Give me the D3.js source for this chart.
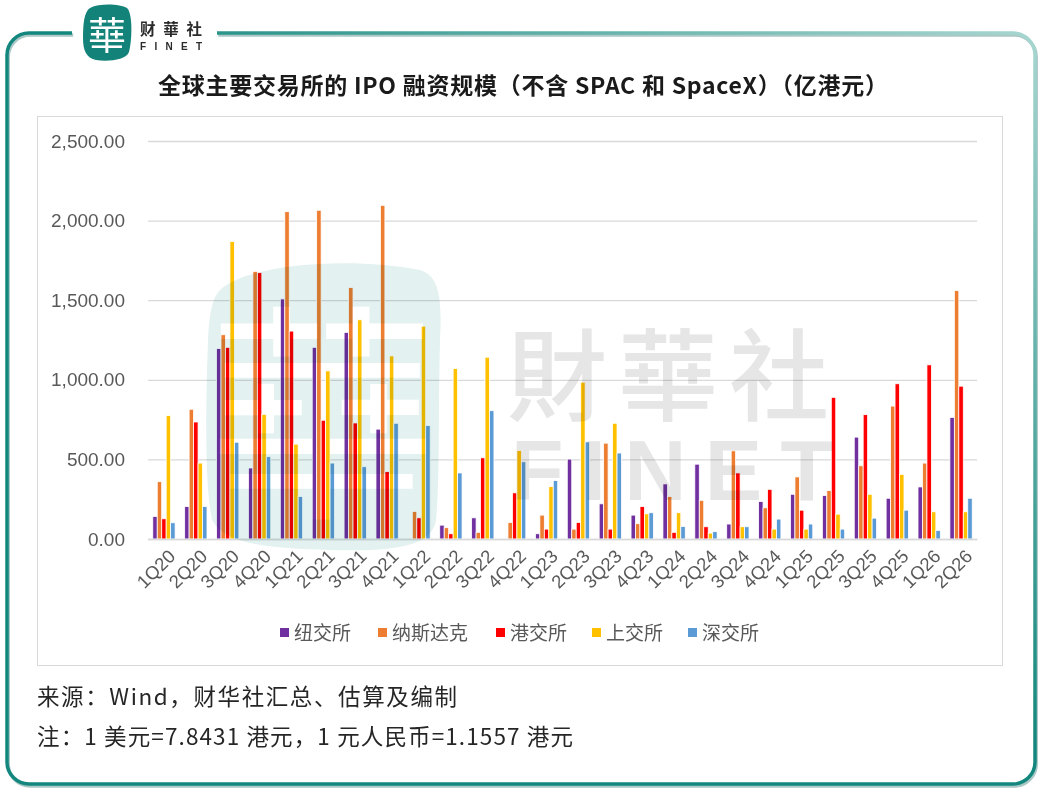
<!DOCTYPE html>
<html>
<head>
<meta charset="utf-8">
<script src="https://cdn.jsdelivr.net/npm/d3@7"></script>
<style>
  html, body { margin: 0; padding: 0; background: #ffffff; }
  svg { display: block; }
</style>
</head>
<body>
<script>
// ---------- DATA ----------
const categories = ["1Q20","2Q20","3Q20","4Q20","1Q21","2Q21","3Q21","4Q21","1Q22","2Q22","3Q22","4Q22","1Q23","2Q23","3Q23","4Q23","1Q24","2Q24","3Q24","4Q24","1Q25","2Q25","3Q25","4Q25","1Q26","2Q26"];
const seriesNames = ["纽交所","纳斯达克","港交所","上交所","深交所"];
const nyse   = [142,204,1196,446,1508,1204,1298,690,0,87,133,0,33,502,221,150,346,470,94,235,281,273,640,256,327,764];
const nasdaq = [360,815,1283,1681,2056,2065,1579,2096,173,71,42,104,150,62,602,96,267,243,554,196,390,304,460,835,477,1560];
const hkex   = [127,735,1204,1673,1306,746,729,423,133,33,510,290,62,104,62,204,42,77,415,312,181,890,781,975,1094,960];
const sse    = [775,477,1869,783,596,1056,1377,1150,1337,1071,1142,556,329,985,727,158,165,37,77,62,62,156,281,406,171,171];
const szse   = [102,204,608,517,267,477,454,727,712,415,806,485,367,610,540,165,79,46,77,125,94,62,131,181,54,256];
const yTicks = [0,500,1000,1500,2000,2500];
const titleText = "全球主要交易所的 IPO 融资规模（不含 SPAC 和 SpaceX）（亿港元）";
const sourceText = "来源：Wind，财华社汇总、估算及编制";
const noteText = "注：1 美元=7.8431 港元，1 元人民币=1.1557 港元";

const seriesValues = [nyse, nasdaq, hkex, sse, szse];
const colors = ["#7030a0","#ed7d31","#ff0000","#ffc000","#5b9bd5"];

const W = 1046, H = 798;
const CJK = "'Noto Sans CJK SC','Noto Sans',sans-serif";
const NUM = "'Liberation Sans',Arial,sans-serif";

const svg = d3.select("body").append("svg").attr("width", W).attr("height", H);
const defs = svg.append("defs");

// ---------- frame ----------
const grad = defs.append("linearGradient").attr("id","frameGrad")
  .attr("gradientUnits","userSpaceOnUse")
  .attr("x1",700).attr("y1",500).attr("x2",1040).attr("y2",30);
grad.append("stop").attr("offset","0%").attr("stop-color","#13877d");
grad.append("stop").attr("offset","100%").attr("stop-color","#a9d7d1");

const fx0 = 7, fy0 = 33, fx1 = 1035, fy1 = 784, r = 22;
const fp = d3.path();
fp.moveTo(72, fy0);
fp.lineTo(fx0 + r, fy0);
fp.arcTo(fx0, fy0, fx0, fy0 + r, r);
fp.lineTo(fx0, fy1 - r);
fp.arcTo(fx0, fy1, fx0 + r, fy1, r);
fp.lineTo(fx1 - r, fy1);
fp.arcTo(fx1, fy1, fx1, fy1 - r, r);
fp.lineTo(fx1, fy0 + r);
fp.arcTo(fx1, fy0, fx1 - r, fy0, r);
fp.lineTo(217, fy0);

svg.append("path").attr("d", fp.toString())
  .attr("transform","translate(1.2,2)")
  .attr("fill","none").attr("stroke","#0d625b").attr("stroke-opacity",0.35).attr("stroke-width",3.5);
svg.append("path").attr("d", fp.toString())
  .attr("fill","none").attr("stroke","url(#frameGrad)").attr("stroke-width",3.5);

// ---------- top logo ----------
const logo = svg.append("g");
logo.append("path")
  .attr("d","M90,8 C100,3 120,4 127,8 C133,14 132,40 129,52 C126,60 108,62 96,60 C86,58 83,50 83,38 C83,24 84,12 90,8 Z")
  .attr("fill","#13837a");
logo.append("text").attr("x",107).attr("y",49).attr("text-anchor","middle")
  .attr("font-family","'Noto Sans CJK TC',sans-serif").attr("font-weight",400)
  .attr("font-size",38).attr("fill","#ffffff").text("華");
logo.append("text").attr("x",140).attr("y",35)
  .attr("font-family","'Noto Sans CJK TC',sans-serif").attr("font-weight",700)
  .attr("font-size",15.5).attr("fill","#2b2b2b").attr("textLength",62).text("财華社");
logo.append("text").attr("x",140).attr("y",49.5)
  .attr("font-family","'Liberation Sans',Arial,sans-serif").attr("font-weight",700)
  .attr("font-size",10).attr("fill","#2b2b2b").attr("textLength",62).attr("lengthAdjust","spacing").text("FINET");

// ---------- title ----------
svg.append("text").attr("x",523).attr("y",94).attr("text-anchor","middle")
  .attr("font-family",CJK).attr("font-weight",700).attr("font-size",23).attr("fill","#1a1a1a")
  .attr("textLength",730).attr("lengthAdjust","spacing")
  .text(titleText);

// ---------- chart box ----------
svg.append("rect").attr("x",37.5).attr("y",116.5).attr("width",965).attr("height",549)
  .attr("fill","#ffffff").attr("stroke","#d9d9d9").attr("stroke-width",1);

// ---------- scales ----------
const plotL = 148, plotR = 977, plotT = 141, plotB = 539;
const x = d3.scaleBand().domain(categories).range([plotL, plotR]).paddingInner(0.3).paddingOuter(0.15);
const xs = d3.scaleBand().domain(d3.range(seriesNames.length)).range([0, x.bandwidth()]).padding(0);
const y = d3.scaleLinear().domain([0, 2500]).range([plotB, plotT]);

// gridlines
const yAxis = d3.axisLeft(y).tickValues(yTicks).tickSize(-(plotR - plotL)).tickFormat(d3.format(",.2f")).tickPadding(23);
const gy = svg.append("g").attr("transform", `translate(${plotL},0)`).call(yAxis);
gy.select(".domain").remove();
gy.selectAll(".tick line").attr("stroke","#d9d9d9").attr("stroke-width",1.3);
gy.selectAll(".tick text").attr("font-family",NUM).attr("font-size",19).attr("fill","#595959");

// bars
const groups = svg.append("g").selectAll("g").data(categories).join("g")
  .attr("transform", d => `translate(${x(d)},0)`);
groups.selectAll("rect")
  .data((d, i) => seriesValues.map((arr, s) => ({ s, v: arr[i] })))
  .join("rect")
  .filter(d => d.v > 0)
  .attr("x", d => xs(d.s))
  .attr("width", xs.bandwidth())
  .attr("y", d => y(d.v))
  .attr("height", d => y(0) - y(d.v))
  .attr("fill", d => colors[d.s])
  .attr("stroke", "#ffffff").attr("stroke-width", 0.8);

// x axis
const xAxis = d3.axisBottom(x).tickSize(0).tickPadding(0);
const gx = svg.append("g").attr("transform", `translate(0,${plotB})`).call(xAxis);
gx.select(".domain").attr("stroke","#d9d9d9").attr("stroke-width",1.3);
gx.selectAll(".tick text")
  .attr("font-family",NUM).attr("font-size",18.5).attr("fill","#595959")
  .attr("text-anchor","end")
  .attr("transform","translate(8,14) rotate(-45)")
  .attr("dy","0.35em").attr("y",0);

// ---------- watermark ----------
const wm = svg.append("g").style("mix-blend-mode","multiply");
wm.append("path")
  .attr("d","M232,282 C270,262 360,258 420,270 C440,276 442,300 440,340 C438,420 440,480 436,520 C432,545 400,552 330,550 C270,548 225,545 212,520 C204,480 206,400 208,340 C210,300 215,290 232,282 Z")
  .attr("fill","#e3f1f0");
wm.append("text").attr("x",322).attr("y",500).attr("text-anchor","middle")
  .attr("font-family","'Noto Sans CJK TC',sans-serif").attr("font-weight",400)
  .attr("font-size",230).attr("fill","#ffffff").text("華");
const wm2 = svg.append("g").style("mix-blend-mode","multiply");
wm2.append("text").attr("x",668).attr("y",413).attr("text-anchor","middle")
  .attr("font-family","'Noto Sans CJK TC',sans-serif").attr("font-weight",500)
  .attr("font-size",100).attr("textLength",322).attr("fill","#e6e6e6").text("財華社");
wm2.append("text").attr("x",672).attr("y",500).attr("text-anchor","middle")
  .attr("font-family","'Liberation Sans',Arial,sans-serif").attr("font-weight",700)
  .attr("font-size",86).attr("textLength",322).attr("lengthAdjust","spacing").attr("fill","#e6e6e6").text("FINET");

// ---------- legend ----------
const legendX = [280, 378, 496, 592, 688];
const lg = svg.append("g").selectAll("g").data(seriesNames).join("g")
  .attr("transform", (d, i) => `translate(${legendX[i]},633)`);
lg.append("rect").attr("x",0).attr("y",-5).attr("width",9).attr("height",9).attr("fill",(d,i)=>colors[i]);
lg.append("text").attr("x",14).attr("y",0).attr("dy","0.36em")
  .attr("font-family",CJK).attr("font-size",19).attr("fill","#595959").text(d => d);

// ---------- footer ----------
svg.append("text").attr("x",37).attr("y",705)
  .attr("font-family",CJK).attr("font-size",22.5).attr("fill","#262626")
  .attr("textLength",420).attr("lengthAdjust","spacing").text(sourceText);
svg.append("text").attr("x",37).attr("y",745)
  .attr("font-family",CJK).attr("font-size",22.5).attr("fill","#262626")
  .attr("textLength",536).attr("lengthAdjust","spacing").text(noteText);
</script>
</body>
</html>
